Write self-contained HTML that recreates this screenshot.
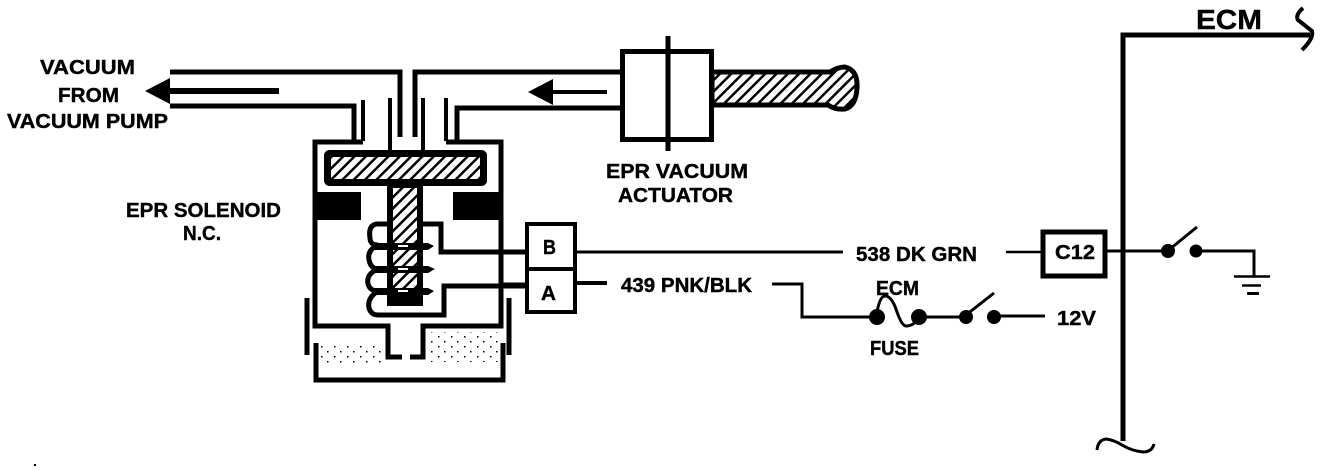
<!DOCTYPE html>
<html>
<head>
<meta charset="utf-8">
<style>
html,body{margin:0;padding:0;background:#fff;width:1328px;height:470px;overflow:hidden}
svg{display:block}
text{font-family:"Liberation Sans",sans-serif;font-weight:bold;fill:#000;stroke:#000;stroke-width:.4px;font-size:20px}
.l{fill:none;stroke:#000;stroke-linecap:butt;stroke-linejoin:miter}
</style>
</head>
<body>
<svg width="1328" height="470" viewBox="0 0 1328 470" xmlns="http://www.w3.org/2000/svg">
<defs>
<pattern id="h" width="8" height="8" patternUnits="userSpaceOnUse" patternTransform="rotate(45)">
<rect width="8" height="8" fill="#fff"/>
<rect x="0" width="2.500" height="8" fill="#000"/>
</pattern>
<pattern id="s" width="13" height="10" patternUnits="userSpaceOnUse">
<rect x="2" y="1" width="1.500" height="1.500" fill="#000"/>
<rect x="9" y="6" width="1.500" height="1.500" fill="#000"/>
</pattern>
</defs>

<!-- Vacuum pipes -->
<path class="l" d="M170 72H400V137" stroke-width="5"/>
<path class="l" d="M622 72H415V137" stroke-width="5"/>
<path class="l" d="M170 106H354V141" stroke-width="5"/>
<path class="l" d="M622 108H457V141" stroke-width="5"/>
<path class="l" d="M363 100V141" stroke-width="4"/>
<path class="l" d="M390 98V150" stroke-width="4"/>
<path class="l" d="M423 98V150" stroke-width="4"/>
<path class="l" d="M446 98V141" stroke-width="4"/>
<rect x="170" y="88" width="109" height="6"/>
<path d="M145 91L170 78V104Z"/>

<!-- Inner arrow -->
<rect x="553" y="90" width="54" height="4"/>
<path d="M528 92L553 79V105Z"/>

<!-- Solenoid body -->
<path class="l" stroke-width="5" d="M363 142H315V326H388V357H402"/>
<path class="l" stroke-width="5" d="M446 142H501V326H423V357H410"/>

<!-- Stipple -->
<rect x="320" y="345" width="66" height="18" fill="url(#s)"/>
<rect x="427" y="332" width="71" height="30" fill="url(#s)"/>

<!-- Tank -->
<path class="l" stroke-width="5" d="M307 298V355"/>
<path class="l" stroke-width="5" d="M509 298V355"/>
<path class="l" stroke-width="5" d="M316 343V380H503V343"/>

<!-- Plate -->
<rect x="327.500" y="153.500" width="156" height="29" rx="2" fill="url(#h)" stroke="#000" stroke-width="7"/>
<!-- Stem -->
<rect x="390" y="185" width="30" height="118" fill="url(#h)" stroke="#000" stroke-width="6"/>
<rect x="387" y="295" width="36" height="11" rx="3"/>
<!-- Magnets -->
<rect x="315" y="192" width="46" height="28"/>
<rect x="453" y="192" width="50" height="28"/>

<!-- Coil -->
<path class="l" stroke-width="5" d="M392 224H376Q368 226 370 238Q370 245 378 245Q367 250 369 260Q371 269 378 269Q366 274 368 284Q370 291 378 291Q367 298 369 308Q371 315 378 315H444V286H527"/>
<path class="l" stroke-width="5" d="M420 224H441V252H527"/>
<path d="M372 243H428L434 246L428 250H372Z"/>
<path d="M372 266H428L435 269L428 273H372Z"/>
<path d="M372 288H428L434 291L428 295H372Z"/>
<g fill="#fff">
<rect x="398" y="245" width="10" height="2"/>
<rect x="398" y="268" width="10" height="2"/>
<rect x="398" y="290" width="10" height="2"/>
</g>

<!-- Connector -->
<rect x="527" y="224" width="48" height="45" fill="#fff" stroke="#000" stroke-width="4"/>
<rect x="527" y="269" width="48" height="43" fill="#fff" stroke="#000" stroke-width="4"/>
<path class="l" stroke-width="2.500" d="M500 252H527"/>
<path class="l" stroke-width="3" d="M500 284H527"/>

<!-- Actuator -->
<path d="M712 72H830Q838 67 845 67Q858 70 857 88Q856 106 845 109Q835 110 828 105H712Z" fill="url(#h)" stroke="#000" stroke-width="5"/>
<rect x="622.500" y="51.500" width="89" height="88" fill="#fff" stroke="#000" stroke-width="5"/>
<path class="l" stroke-width="5" d="M668 36V151"/>

<!-- Wires -->
<path class="l" stroke-width="3" d="M575 252H843"/>
<path class="l" stroke-width="2.500" d="M1006 252H1042"/>
<path class="l" stroke-width="4" d="M575 283H607"/>
<path class="l" stroke-width="3" d="M772 284H802V317H877"/>
<circle cx="877" cy="317" r="8"/>
<circle cx="919" cy="317" r="8"/>
<path class="l" stroke-width="3" d="M877 312Q880 296 885 296Q892 296 897 312Q902 326 906 326Q914 326 918 318"/>
<path class="l" stroke-width="3" d="M919 317H966"/>
<circle cx="966" cy="317" r="7"/>
<circle cx="994" cy="317" r="7"/>
<path class="l" stroke-width="3" d="M966 315L994 293"/>
<path class="l" stroke-width="3" d="M994 316H1045"/>

<!-- C12 -->
<rect x="1043" y="232" width="62" height="44" fill="#fff" stroke="#000" stroke-width="5"/>

<!-- ECM rail -->
<path class="l" stroke-width="5" d="M1123 441V35H1310"/>
<path class="l" stroke-width="4" d="M1303 8Q1295 15 1298 20L1312 31Q1314 38 1302 50"/>
<path class="l" stroke-width="3" d="M1097 450Q1098 440 1106 439Q1114 440 1122 445Q1132 451 1143 452Q1152 452 1154 444"/>
<rect x="34" y="464" width="2" height="2"/>

<!-- Right switch -->
<path class="l" stroke-width="3" d="M1107 251H1168"/>
<circle cx="1168" cy="251" r="7"/>
<circle cx="1196" cy="251" r="6.500"/>
<path class="l" stroke-width="3" d="M1170 249L1197 227"/>
<path class="l" stroke-width="3" d="M1196 251H1254V276"/>
<path class="l" stroke-width="2.500" d="M1234 276.500H1270"/>
<path class="l" stroke-width="2.500" d="M1242 285.500H1261"/>
<path class="l" stroke-width="3" d="M1247 293.500H1259"/>

<!-- Labels -->
<text x="40" y="74" textLength="95" lengthAdjust="spacingAndGlyphs">VACUUM</text>
<text x="58" y="102" textLength="61" lengthAdjust="spacingAndGlyphs">FROM</text>
<text x="7" y="128" textLength="161" lengthAdjust="spacingAndGlyphs">VACUUM PUMP</text>
<text x="126" y="217" textLength="155" lengthAdjust="spacingAndGlyphs">EPR SOLENOID</text>
<text x="183" y="240" textLength="38" lengthAdjust="spacingAndGlyphs">N.C.</text>
<text x="606" y="178" textLength="142" lengthAdjust="spacingAndGlyphs">EPR VACUUM</text>
<text x="618" y="202" textLength="115" lengthAdjust="spacingAndGlyphs">ACTUATOR</text>
<text x="543" y="254" textLength="13" lengthAdjust="spacingAndGlyphs">B</text>
<text x="541" y="300" textLength="15" lengthAdjust="spacingAndGlyphs">A</text>
<text x="856" y="261" textLength="121" lengthAdjust="spacingAndGlyphs">538 DK GRN</text>
<text x="621" y="292" textLength="131" lengthAdjust="spacingAndGlyphs">439 PNK/BLK</text>
<text x="1055" y="259" textLength="40" lengthAdjust="spacingAndGlyphs">C12</text>
<text x="876" y="295" textLength="43" lengthAdjust="spacingAndGlyphs">ECM</text>
<text x="870" y="355" textLength="49" lengthAdjust="spacingAndGlyphs">FUSE</text>
<text x="1057" y="325" textLength="39" lengthAdjust="spacingAndGlyphs">12V</text>
<text x="1196" y="29" textLength="66" lengthAdjust="spacingAndGlyphs" style="font-size:28px">ECM</text>
</svg>
</body>
</html>
